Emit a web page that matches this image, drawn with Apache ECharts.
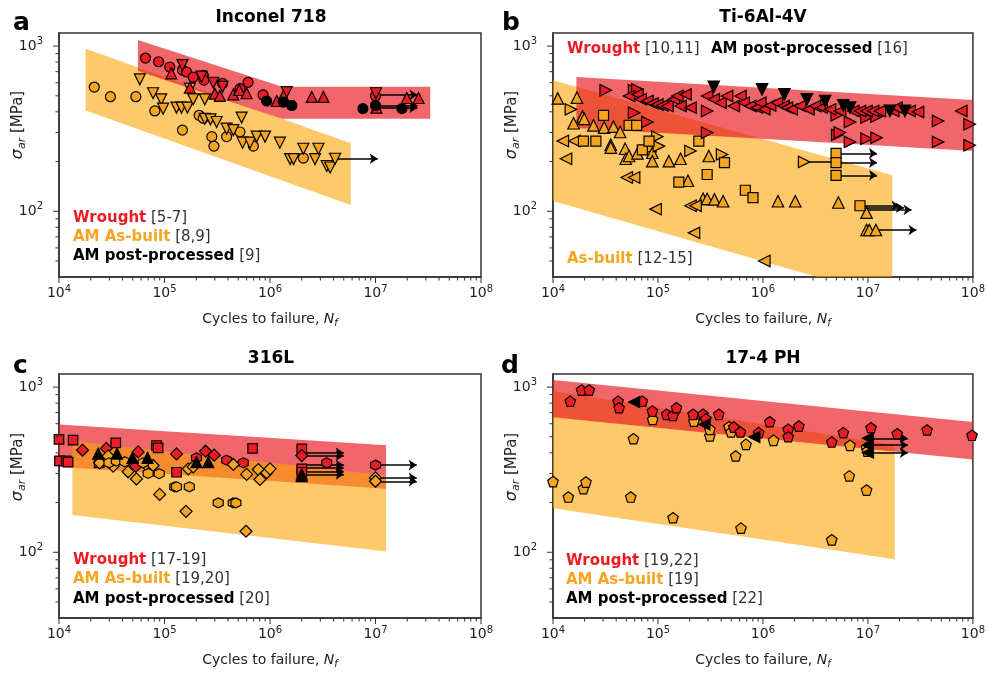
<!DOCTYPE html>
<html>
<head>
<meta charset="utf-8">
<script src="https://cdn.jsdelivr.net/npm/echarts@6/dist/echarts.min.js"></script>
<style>
  html, body { margin: 0; padding: 0; background: #fff; }
  #chart { width: 988px; height: 677px; }
</style>
</head>
<body>
<div id="chart"></div>
<script>
const FONT = 'DejaVu Sans';
const RED = '#ed1c24', ORANGE = '#f7a51e', BLACK = '#000';
const RED_BAND = 'rgba(232,20,28,0.65)', ORANGE_BAND = 'rgba(252,165,7,0.6)';
const AXIS_COLOR = '#333';
const X_MIN = 1e4, X_MAX = 1e8, Y_MIN = 40, Y_MAX = 1200;

// tick positions (decades get labels)
const xDecades = [1e4, 1e5, 1e6, 1e7, 1e8];
const yDecades = [1e1, 1e2, 1e3];

// ---- (a) Inconel 718 ----
const inconelBandBuilt = [[1.79e4, 963], [5.83e6, 258], [5.83e6, 109], [1.79e4, 408]];
const inconelBandWrought = [[5.6e4, 1087], [1.3e6, 568], [3.3e7, 568], [3.3e7, 363], [1.3e6, 363], [5.6e4, 706]];
const inconelWroughtCircle = [[6.6e4, 846], [8.8e4, 804], [1.12e5, 747], [1.48e5, 716], [1.62e5, 697], [1.87e5, 649], [2.33e5, 665], [2.36e5, 622], [3.55e5, 594], [6.2e5, 603], [5.19e5, 552], [8.6e5, 506], [1e7, 499]];
const inconelWroughtDown = [[1.48e5, 767], [2.24e5, 653], [2.9e5, 600], [3.55e5, 567], [1.44e6, 527], [1.01e7, 518]];
const inconelWroughtUp = [[1.16e5, 684], [1.74e5, 560], [3.0e5, 515], [3.35e5, 499], [4.49e5, 510], [5.12e5, 542], [6.0e5, 518], [1.16e6, 465], [1.34e6, 499], [2.49e6, 492], [3.21e6, 492], [1.02e7, 424], [1.98e7, 485], [2.56e7, 485]];
const inconelPostCircle = [[9.3e5, 465], [1.34e6, 458], [1.61e6, 437], [7.6e6, 418], [1e7, 437], [1.78e7, 418]];
const inconelBuiltCircle = [[2.16e4, 565], [3.07e4, 494], [5.35e4, 494], [8.1e4, 405], [1.48e5, 310], [2.13e5, 381], [2.33e5, 366], [2.81e5, 283], [2.94e5, 248], [3.88e5, 283], [5.19e5, 302], [6.95e5, 248], [2.07e6, 210]];
const inconelBuiltDown = [[5.83e4, 629], [7.8e4, 518], [9.3e4, 476], [9.7e4, 418], [1.3e5, 424], [1.45e5, 424], [1.65e5, 424], [1.74e5, 552], [1.87e5, 476], [2.41e5, 476], [2.41e5, 363], [2.73e5, 360], [3.12e5, 347], [3.88e5, 316], [4.49e5, 310], [5.38e5, 369], [5.5e5, 260], [6.46e5, 260], [7.47e5, 283], [8.97e5, 283], [1.24e6, 260], [1.55e6, 207], [1.67e6, 207], [2.07e6, 239], [2.67e6, 207], [2.88e6, 239], [3.45e6, 188], [3.72e6, 184], [4.14e6, 208]];
// runouts: [start N, stress, end N]
const inconelRunouts = [[4.3e6, 208, 1.05e7], [1e7, 506, 2.5e7], [1e7, 437, 2.5e7], [1e7, 424, 2.5e7]];

// ---- (b) Ti-6Al-4V ----
const tiBandBuilt = [[1e4, 622], [1.71e7, 165], [1.71e7, 29.6], [1e4, 115.5]];
const tiBandWrought = [[1.67e4, 649], [1e8, 471], [1e8, 232], [1.67e4, 319]];
const tiPostDown = [[3.4e5, 567], [9.8e5, 547], [1.6e6, 510], [2.62e6, 476], [3.91e6, 465], [5.83e6, 437], [6.75e6, 424], [1.62e7, 405], [2.25e7, 405]];
const tiWroughtRight = [[3.18e4, 540], [5.92e4, 540], [6.37e4, 547], [5.92e4, 395], [7.92e4, 347], [2.94e5, 405], [2.94e5, 299], [5.04e6, 381], [6.75e6, 347], [5.1e6, 290], [5.4e6, 300], [6.75e6, 263], [9.7e6, 369], [1.21e7, 374], [9.7e6, 275], [1.21e7, 279], [4.66e7, 352], [4.66e7, 263], [9.3e7, 336], [9.3e7, 251]];
const tiWroughtLeft = [[5.31e4, 499], [6.37e4, 510], [6.84e4, 476], [7.92e4, 465], [8.84e4, 450], [9.86e4, 443], [1.1e5, 437], [1.23e5, 434], [1.42e5, 476], [1.53e5, 499], [1.64e5, 434], [1.83e5, 510], [2.04e5, 424], [2.94e5, 499], [3.4e5, 476], [3.94e5, 454], [4.55e5, 499], [5.27e5, 434], [6.1e5, 499], [6.55e5, 454], [7.58e5, 434], [8.77e5, 424], [9.44e5, 454], [1.03e6, 414], [1.17e6, 437], [1.36e6, 454], [1.57e6, 434], [1.69e6, 424], [1.88e6, 414], [2.26e6, 434], [2.71e6, 414], [3.14e6, 434], [3.63e6, 424], [4.36e6, 414], [5.42e6, 405], [7.26e6, 405], [8.4e6, 405], [9.7e6, 405], [1.12e7, 405], [1.3e7, 405], [1.74e7, 405], [1.87e7, 424], [2.5e7, 405], [3.0e7, 399], [7.75e7, 405]];
const tiBuiltUp = [[1.11e4, 482], [1.69e4, 487], [1.57e4, 341], [1.91e4, 374], [1.98e4, 363], [2.43e4, 331], [3.07e4, 321], [3.77e4, 325], [4.36e4, 302], [3.55e4, 253], [3.55e4, 243], [4.86e4, 239], [4.93e4, 208], [5.31e4, 216], [6.37e4, 224], [8.5e4, 248], [8.84e4, 226], [8.84e4, 201], [1.27e5, 201], [1.64e5, 208], [1.93e5, 153], [3.05e5, 216], [2.69e5, 119], [2.94e5, 119], [3.45e5, 118], [4.17e5, 115], [1.39e6, 115], [2.03e6, 115], [5.23e6, 113], [9.7e6, 98], [9.7e6, 77], [1.03e7, 77], [1.19e7, 77]];
const tiBuiltLeft = [[1.24e4, 266], [1.6e4, 266], [1.33e4, 208], [5.04e4, 160], [5.92e4, 160], [9.5e4, 103], [2.04e5, 108], [2.28e5, 108], [2.2e5, 74], [1.03e6, 50]];
const tiBuiltSquare = [[1.95e4, 266], [2.56e4, 266], [3.03e4, 381], [5.31e4, 331], [6.27e4, 331], [7.1e4, 235], [8.22e4, 266], [1.58e5, 150], [2.45e5, 266], [2.94e5, 167], [4.3e5, 197], [6.8e5, 134], [8.04e5, 121], [4.97e6, 224], [4.97e6, 197], [4.97e6, 165], [8.4e6, 108]];
const tiBuiltRight = [[1.48e4, 414], [9.86e4, 283], [1.02e5, 248], [2.04e5, 232], [4.08e5, 221], [2.47e6, 199]];
const tiRunouts = [[4.97e6, 224, 1.22e7], [4.97e6, 197, 1.22e7], [4.97e6, 165, 1.22e7], [2.47e6, 199, 5.6e6], [8.4e6, 108, 2.0e7], [9.7e6, 105, 2.2e7], [9.7e6, 102, 2.6e7], [1.19e7, 77, 2.9e7]];

// ---- (c) 316L ----
const sslBandWrought = [[1e4, 594], [1.26e7, 445], [1.26e7, 242], [1e4, 329]];
const sslBandBuilt = [[1.34e4, 471], [1.26e7, 292], [1.26e7, 101], [1.34e4, 168]];
const sslWroughtSquare = [[1e4, 482], [1.36e4, 477], [3.45e4, 460], [8.4e4, 443], [8.7e4, 429], [6.84e5, 425], [2e6, 423], [1.01e4, 357], [1.17e4, 357], [1.22e4, 351], [2.4e4, 348], [1.3e5, 305], [2e6, 320], [2e6, 305]];
const sslWroughtDiamond = [[1.67e4, 415], [2.81e4, 425], [5.62e4, 405], [1.3e5, 394], [2.45e5, 409], [2.96e5, 387], [2e6, 385], [5.35e4, 332]];
const sslWroughtHex = [[2.01e5, 373], [3.88e5, 361], [5.58e5, 348], [3.45e6, 348], [1e7, 337]];
const sslBuiltDiamond = [[2.92e4, 382], [3.26e4, 332], [4.52e4, 307], [5.42e4, 278], [6.65e4, 340], [7.8e4, 335], [9.0e4, 224], [1.6e5, 177], [1.68e5, 320], [1.87e5, 329], [4.49e5, 340], [6.0e5, 296], [5.92e5, 134], [7.74e5, 317], [8.03e5, 276], [9.3e5, 303], [1e6, 320], [1e7, 282], [1e7, 269], [2.43e4, 348]];
const sslBuiltHex = [[2.98e4, 348], [3.5e4, 357], [4.2e4, 353], [7.0e4, 300], [8.9e4, 299], [1.25e5, 249], [1.3e5, 249], [1.72e5, 249], [3.23e5, 199], [4.49e5, 199], [4.75e5, 199], [6.27e4, 348]];
const sslPostUp = [[2.35e4, 396], [3.55e4, 396], [4.97e4, 373], [6.9e4, 373], [2.01e5, 351], [2.6e5, 351], [2e6, 296], [2e6, 289]];
const sslRunouts = [[2e6, 400, 5e6], [2e6, 385, 5e6], [2e6, 337, 5e6], [2e6, 325, 5e6], [2e6, 309, 5e6], [2e6, 296, 5e6], [1e7, 337, 2.46e7], [1e7, 282, 2.46e7], [1e7, 269, 2.46e7]];

// ---- (d) 17-4 PH ----
const phBandBuilt = [[1e4, 946], [1.8e7, 446], [1.8e7, 90.8], [1e4, 184.5]];
const phBandWrought = [[1e4, 1103], [1e8, 614], [1e8, 365], [1e4, 656]];
const phWroughtPent = [[1.46e4, 822], [1.87e4, 959], [2.21e4, 959], [4.17e4, 822], [4.26e4, 750], [7.1e4, 822], [8.84e4, 716], [1.21e5, 684], [1.39e5, 674], [1.5e5, 750], [2.16e5, 684], [2.69e5, 684], [2.86e5, 643], [3.8e5, 684], [5.27e5, 573], [6.1e5, 535], [9.1e5, 530], [1.16e6, 617], [1.74e6, 555], [1.74e6, 501], [2.2e6, 581], [4.52e6, 465], [5.83e6, 530], [1.07e7, 568], [1.9e7, 522], [3.66e7, 550], [9.8e7, 511]];
const phBuiltPent = [[1e4, 268], [1.4e4, 216], [1.95e4, 243], [2.06e4, 266], [5.5e4, 216], [5.84e4, 487], [8.9e4, 637], [1.39e5, 162], [2.2e5, 622], [3.12e5, 506], [3.12e5, 555], [4.75e5, 575], [4.97e5, 535], [5.5e5, 383], [6.18e5, 140], [6.9e5, 450], [1.26e6, 476], [4.52e6, 119], [6.65e6, 290], [6.75e6, 444], [9.7e6, 238], [9.7e6, 430], [9.86e6, 410]];
const phPostLeft = [[5.92e4, 811], [2.77e5, 594], [8.28e5, 499], [1e7, 490], [1e7, 445], [1e7, 401]];
const phRunouts = [[1e7, 490, 2.4e7], [1e7, 445, 2.4e7], [1e7, 401, 2.4e7]];

// ---------------------------------------------------------------
const PENTAGON = 'path://M0,-10L9.51,-3.09L5.88,8.09L-5.88,8.09L-9.51,-3.09Z';
const HEXAGON = 'path://M0,-10L8.66,-5L8.66,5L0,10L-8.66,5L-8.66,-5Z';
const UP = 0, DOWN = 180, LEFT = 90, RIGHT = -90;

const grids = [
  { left: 59, top: 33, width: 422, height: 244 },
  { left: 553, top: 33, width: 421, height: 244 },
  { left: 59, top: 374, width: 422, height: 244 },
  { left: 553, top: 374, width: 421, height: 244 }
];

const isDecade = v => Math.abs(Math.log10(v) - Math.round(Math.log10(v))) < 1e-6;
// superscript: bottom padding lifts the exponent above the "10"
const tickRich = {
  sup: { fontSize: 10, fontFamily: FONT, color: '#222', padding: [0, 0, 9, 0] }
};

// minor + major tick values, within the axis range
function logTicks(decades, lo, hi) {
  const out = [];
  decades.forEach(d => { for (let k = 1; k <= 9; k++) { const v = k * d; if (v > lo && v <= hi) out.push(v); } });
  return out;
}
const xTicks = logTicks(xDecades, X_MIN * 0.999, X_MAX);
const yTicks = logTicks(yDecades, Y_MIN, Y_MAX);

function band(idx, pts, color) {
  return {
    type: 'custom', xAxisIndex: idx, yAxisIndex: idx, silent: true, clip: true, z: 1,
    data: pts,
    renderItem: (params, api) => {
      if (params.dataIndex !== 0) return null;
      return { type: 'polygon', shape: { points: pts.map(p => api.coord(p)) }, style: { fill: color } };
    }
  };
}

function marks(idx, data, symbol, color, size, rotate) {
  return {
    type: 'scatter', xAxisIndex: idx, yAxisIndex: idx, data: data, symbol: symbol,
    symbolSize: size, symbolRotate: rotate || 0, silent: true, z: 3,
    itemStyle: { color: color, borderColor: '#000', borderWidth: 1.2, opacity: 1 }
  };
}

function runouts(idx, list) {
  return {
    type: 'lines', coordinateSystem: 'cartesian2d', xAxisIndex: idx, yAxisIndex: idx,
    silent: true, z: 2, symbol: ['none', 'arrow'], symbolSize: 8,
    lineStyle: { color: '#000', width: 1.5, opacity: 1, curveness: 0 },
    data: list.map(r => ({ coords: [[r[0], r[1]], [r[2], r[1]]] }))
  };
}

function ticks(idx, axis) {
  const vals = axis === 'x' ? xTicks.map(v => [v, Y_MIN]) : yTicks.map(v => [X_MIN, v]);
  return {
    type: 'custom', xAxisIndex: idx, yAxisIndex: idx, silent: true, clip: false, z: 5,
    data: vals,
    renderItem: (params, api) => {
      const x = api.value(0), y = api.value(1);
      const len = isDecade(axis === 'x' ? x : y) ? 6 : 3.5;
      const p = api.coord([x, y]);
      const shape = axis === 'x'
        ? { x1: p[0], y1: p[1], x2: p[0], y2: p[1] + len }
        : { x1: p[0] - len, y1: p[1], x2: p[0], y2: p[1] };
      return { type: 'line', shape: shape, style: { stroke: AXIS_COLOR, lineWidth: 1 } };
    }
  };
}

const xAxes = grids.map((g, i) => ({
  type: 'log', logBase: 10, gridIndex: i, min: X_MIN, max: X_MAX,
  axisLine: { show: true, onZero: false, lineStyle: { color: AXIS_COLOR, width: 1.5 } },
  axisTick: { show: false }, splitLine: { show: false },
  axisLabel: {
    margin: 7, color: '#222', fontFamily: FONT, fontSize: 14,
    formatter: v => isDecade(v) ? '10{sup|' + Math.round(Math.log10(v)) + '}' : '',
    rich: tickRich
  },
  name: 'Cycles to failure, {i|N}{sub|f}', nameLocation: 'middle', nameGap: 34,
  nameTextStyle: {
    color: '#222', fontFamily: FONT, fontSize: 14,
    rich: {
      i: { fontFamily: FONT, fontSize: 14, fontStyle: 'italic', color: '#222' },
      sub: { fontFamily: FONT, fontSize: 10, fontStyle: 'italic', color: '#222', padding: [7, 0, 0, 0] }
    }
  }
}));

const yAxes = grids.map((g, i) => ({
  type: 'log', logBase: 10, gridIndex: i, min: Y_MIN, max: Y_MAX,
  axisLine: { show: true, onZero: false, lineStyle: { color: AXIS_COLOR, width: 1.5 } },
  axisTick: { show: false }, splitLine: { show: false },
  axisLabel: {
    margin: 16, color: '#222', fontFamily: FONT, fontSize: 14,
    formatter: v => isDecade(v) ? '10{sup|' + Math.round(Math.log10(v)) + '}' : '',
    rich: tickRich
  }
}));

const series = [
  // (a)
  band(0, inconelBandBuilt, ORANGE_BAND),
  band(0, inconelBandWrought, RED_BAND),
  runouts(0, inconelRunouts),
  marks(0, inconelBuiltCircle, 'circle', ORANGE, 10),
  marks(0, inconelBuiltDown, 'triangle', ORANGE, 11, DOWN),
  marks(0, inconelWroughtCircle, 'circle', RED, 10),
  marks(0, inconelWroughtDown, 'triangle', RED, 11, DOWN),
  marks(0, inconelWroughtUp, 'triangle', RED, 11, UP),
  marks(0, inconelPostCircle, 'circle', BLACK, 10),
  // (b)
  band(1, tiBandBuilt, ORANGE_BAND),
  band(1, tiBandWrought, RED_BAND),
  runouts(1, tiRunouts),
  marks(1, tiBuiltUp, 'triangle', ORANGE, 11.5, UP),
  marks(1, tiBuiltLeft, 'triangle', ORANGE, 11.5, LEFT),
  marks(1, tiBuiltRight, 'triangle', ORANGE, 11.5, RIGHT),
  marks(1, tiBuiltSquare, 'rect', ORANGE, 10),
  marks(1, tiWroughtRight, 'triangle', RED, 11.5, RIGHT),
  marks(1, tiWroughtLeft, 'triangle', RED, 11.5, LEFT),
  marks(1, tiPostDown, 'triangle', BLACK, 11.5, DOWN),
  // (c)
  band(2, sslBandWrought, RED_BAND),
  band(2, sslBandBuilt, ORANGE_BAND),
  runouts(2, sslRunouts),
  marks(2, sslWroughtSquare, 'rect', RED, 9.5),
  marks(2, sslWroughtDiamond, 'diamond', RED, 12),
  marks(2, sslWroughtHex, HEXAGON, RED, 10),
  marks(2, sslBuiltDiamond, 'diamond', ORANGE, 12),
  marks(2, sslBuiltHex, HEXAGON, ORANGE, 10),
  marks(2, sslPostUp, 'triangle', BLACK, 11, UP),
  // (d)
  band(3, phBandBuilt, ORANGE_BAND),
  band(3, phBandWrought, RED_BAND),
  runouts(3, phRunouts),
  marks(3, phBuiltPent, PENTAGON, ORANGE, 10.5),
  marks(3, phWroughtPent, PENTAGON, RED, 10.5),
  marks(3, phPostLeft, 'triangle', BLACK, 11, LEFT)
];
for (let i = 0; i < 4; i++) { series.push(ticks(i, 'x'), ticks(i, 'y')); }

// texts: titles, panel letters, y labels, legends
function text(x, y, str, opt) {
  const font = opt.font || ('14px "' + FONT + '"');
  return {
    type: 'text', x: x, y: y, rotation: opt.rotation || 0, silent: true, z: 10,
    style: {
      text: str, font: font, fill: opt.fill || '#222',
      align: opt.align || 'left', verticalAlign: 'middle',
      textAlign: opt.align || 'left', textVerticalAlign: 'middle',
      rich: opt.rich
    }
  };
}
const legendRich = {
  r: { fontFamily: FONT, fontSize: 15, fontWeight: 'bold', fill: RED, color: RED },
  o: { fontFamily: FONT, fontSize: 15, fontWeight: 'bold', fill: ORANGE, color: ORANGE },
  k: { fontFamily: FONT, fontSize: 15, fontWeight: 'bold', fill: '#000', color: '#000' },
  g: { fontFamily: FONT, fontSize: 15, fill: '#333', color: '#333' }
};
const yLabelRich = {
  i: { fontFamily: FONT, fontSize: 16, fontStyle: 'italic', fill: '#222' },
  s: { fontFamily: FONT, fontSize: 11, fontStyle: 'italic', fill: '#222', padding: [8, 0, 0, 0] },
  n: { fontFamily: FONT, fontSize: 15, fill: '#222' }
};
const legend = (x, y, str) => text(x, y, str, { rich: legendRich, font: '15px "' + FONT + '"' });
const titleFont = 'bold 17px "' + FONT + '"';
const letterFont = 'bold 25px "' + FONT + '"';
const yLabel = '{i|σ}{s|ar}{n| [MPa]}';

const graphics = [
  text(271, 17.5, 'Inconel 718', { font: titleFont, align: 'center', fill: '#000' }),
  text(763, 17.5, 'Ti-6Al-4V', { font: titleFont, align: 'center', fill: '#000' }),
  text(271, 359, '316L', { font: titleFont, align: 'center', fill: '#000' }),
  text(763, 359, '17-4 PH', { font: titleFont, align: 'center', fill: '#000' }),
  text(13, 23.5, 'a', { font: letterFont, fill: '#000' }),
  text(502, 23.5, 'b', { font: letterFont, fill: '#000' }),
  text(13, 366.5, 'c', { font: letterFont, fill: '#000' }),
  text(501, 366.5, 'd', { font: letterFont, fill: '#000' }),
  text(18, 125, yLabel, { rich: yLabelRich, align: 'center', rotation: Math.PI / 2 }),
  text(512, 125, yLabel, { rich: yLabelRich, align: 'center', rotation: Math.PI / 2 }),
  text(18, 467, yLabel, { rich: yLabelRich, align: 'center', rotation: Math.PI / 2 }),
  text(512, 467, yLabel, { rich: yLabelRich, align: 'center', rotation: Math.PI / 2 }),
  legend(73, 218.5, '{r|Wrought}{g| [5-7]}'),
  legend(73, 237.5, '{o|AM As-built}{g| [8,9]}'),
  legend(73, 256.5, '{k|AM post-processed}{g| [9]}'),
  legend(567, 49, '{r|Wrought}{g| [10,11]}'),
  legend(711, 49, '{k|AM post-processed}{g| [16]}'),
  legend(567, 259.5, '{o|As-built}{g| [12-15]}'),
  legend(73, 560, '{r|Wrought}{g| [17-19]}'),
  legend(73, 579.5, '{o|AM As-built}{g| [19,20]}'),
  legend(73, 599, '{k|AM post-processed}{g| [20]}'),
  legend(566, 561, '{r|Wrought}{g| [19,22]}'),
  legend(566, 580, '{o|AM As-built}{g| [19]}'),
  legend(566, 599.5, '{k|AM post-processed}{g| [22]}')
];

const chart = echarts.init(document.getElementById('chart'), null, { renderer: 'canvas' });
chart.setOption({
  animation: false,
  backgroundColor: '#fff',
  grid: grids.map(g => Object.assign({ show: true, borderColor: AXIS_COLOR, borderWidth: 1.5, backgroundColor: 'transparent' }, g)),
  xAxis: xAxes,
  yAxis: yAxes,
  series: series,
  graphic: { elements: graphics }
});
</script>
</body>
</html>
